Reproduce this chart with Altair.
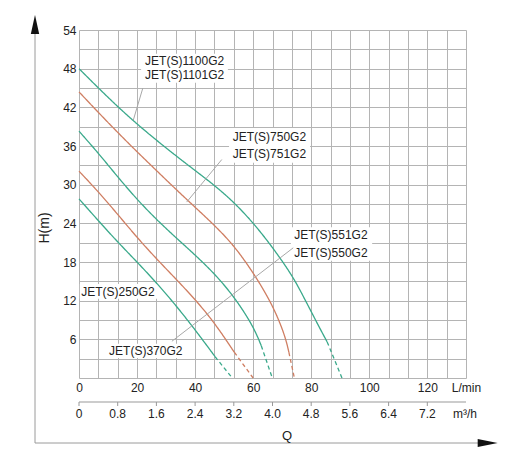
import pandas as pd
import altair as alt

# grid columns are 0.4 m3/h (= 20/3 L/min), rows are 3 m
q_grid = [i * 20 / 3 for i in range(21)]
h_grid = list(range(0, 55, 3))

m3h_ticks = [0, 0.8, 1.6, 2.4, 3.2, 4.0, 4.8, 5.6, 6.4, 7.2]
m3h_text = ["0", "0.8", "1.6", "2.4", "3.2", "4.0", "4.8", "5.6", "6.4", "7.2"]

# pump curves: Q in L/min, H in m (solid part)
models = ["1100G2", "750G2", "551G2", "370G2", "250G2"]
curve_colors = ["#3aa98b", "#cf7e62", "#3aa98b", "#cf7e62", "#3aa98b"]

q_1100 = [0, 6.67, 13.33, 20, 26.67, 33.33, 40, 46.67, 53.33, 60, 66.67, 73.33, 76.67, 80, 83.33, 85.5]
h_1100 = [48, 45, 42.1, 39.4, 36.9, 34.5, 32.2, 29.9, 27.3, 24.1, 20.3, 16.0, 13.2, 10.3, 7.4, 5.6]
q_750 = [0, 6.67, 13.33, 20, 26.67, 33.33, 40, 46.67, 53.33, 60, 66.67, 71, 72.3]
h_750 = [44.4, 41.2, 38.1, 35.1, 32.2, 29.3, 26.5, 23.7, 20.6, 16.4, 11.4, 6.6, 4.0]
q_551 = [0, 6.67, 13.33, 20, 26.67, 33.33, 40, 46.67, 53.33, 60, 62.8]
h_551 = [38.3, 34.9, 31.2, 27.7, 24.6, 21.8, 19.1, 16.2, 12.7, 8.1, 5.0]
q_370 = [0, 6.67, 13.33, 20, 26.67, 33.33, 40, 46.67, 53.5]
h_370 = [32.1, 28.9, 25.4, 21.8, 18.5, 15.4, 12.2, 8.6, 4.0]
q_250 = [0, 6.67, 13.33, 20, 26.67, 33.33, 40, 46.9]
h_250 = [27.8, 24.4, 21.1, 18.0, 14.8, 11.3, 7.5, 3.3]
# where the dashed tail reaches H = 0
q_shutoff = [90.6, 74.2, 66.6, 60.0, 52.8]

# model labels
label_text = ["JET(S)1100G2", "JET(S)1101G2", "JET(S)750G2", "JET(S)751G2",
              "JET(S)551G2", "JET(S)550G2", "JET(S)250G2", "JET(S)370G2"]
label_q = [36.4, 36.4, 65.6, 65.6, 86.8, 86.8, 13.4, 23.0]
label_h = [49.2, 47.0, 37.4, 34.7, 22.2, 19.4, 13.4, 4.2]

# white boxes behind the labels
box_q = [21.4, 51.7, 73.0, 0.3, 9.3]
box_q2 = [51.3, 79.6, 101.0, 26.9, 36.9]
box_h = [45.8, 33.4, 18.2, 12.3, 3.1]
box_h2 = [50.3, 38.8, 23.4, 14.6, 5.3]

# leader lines
lead_q = [22.0, 49.2, 73.8]
lead_h = [45.0, 33.9, 20.2]
lead_q2 = [18.7, 37.1, 32.0]
lead_h2 = [40.0, 27.3, 5.7]

rows = []
for m, qs, hs, q0 in zip(models, [q_1100, q_750, q_551, q_370, q_250],
                         [h_1100, h_750, h_551, h_370, h_250], q_shutoff):
    for q, h in zip(qs, hs):
        rows.append({"model": m, "part": "solid", "q": q, "h": h})
    rows.append({"model": m, "part": "tail", "q": qs[-1], "h": hs[-1]})
    rows.append({"model": m, "part": "tail", "q": q0, "h": 0})
curves = pd.DataFrame(rows)

labels = pd.DataFrame({"text": label_text, "q": label_q, "h": label_h})
boxes = pd.DataFrame({"q": box_q, "q2": box_q2, "h": box_h, "h2": box_h2})
leaders = pd.DataFrame({"q": lead_q, "q2": lead_q2, "h": lead_h, "h2": lead_h2})
m3h = pd.DataFrame({"q": [v * 50 / 3 for v in m3h_ticks], "text": m3h_text})
one = pd.DataFrame({"k": [0]})

FONT = "Liberation Sans"
xs = alt.Scale(domain=[0, 400 / 3], nice=False, zero=False)
ys = alt.Scale(domain=[0, 54], nice=False, zero=False)

x_axis = alt.Axis(values=q_grid, grid=True, ticks=False, tickSize=0, domain=False,
                  labelFlush=False, labelOverlap=False, labelPadding=4, title=None,
                  labelExpr="(datum.value + 0.01) % 20 < 0.02 ? format(datum.value, '.0f')"
                            " : (datum.value > 133 ? 'L/min' : '')")
y_axis = alt.Axis(values=h_grid, grid=True, ticks=False, tickSize=0, domain=False,
                  labelPadding=3, title=None,
                  labelExpr="datum.value > 0 && datum.value % 6 == 0 ? format(datum.value, 'd') : ''")


def X(field):
    return alt.X(field, scale=xs, axis=x_axis)


def Y(field):
    return alt.Y(field, scale=ys, axis=y_axis)


box_layer = alt.Chart(boxes).mark_rect(color="white").encode(
    x=X("q:Q"), x2="q2:Q", y=Y("h:Q"), y2="h2:Q")

curve_layer = alt.Chart(curves).mark_line(interpolate="basis", strokeWidth=1.3).encode(
    x=X("q:Q"),
    y=Y("h:Q"),
    color=alt.Color("model:N", scale=alt.Scale(domain=models, range=curve_colors), legend=None),
    detail="part:N",
    strokeDash=alt.StrokeDash("part:N", scale=alt.Scale(domain=["solid", "tail"], range=[[1, 0], [4, 3]]),
                              legend=None),
    order="q:Q",
)

leader_layer = alt.Chart(leaders).mark_rule(color="#a8a8a8", strokeWidth=1).encode(
    x=X("q:Q"), x2="q2:Q", y=Y("h:Q"), y2="h2:Q")

label_layer = alt.Chart(labels).mark_text(font=FONT, fontSize=12, color="#222",
                                          align="center", baseline="middle").encode(
    x=X("q:Q"), y=Y("h:Q"), text="text:N")

# second flow scale in m3/h under the L/min labels
m3h_line = alt.Chart(one).mark_rule(color="#999", strokeWidth=1).encode(
    x=alt.value(0), x2=alt.value(387), y=alt.value(372))
m3h_tick = alt.Chart(m3h).mark_rule(color="#999", strokeWidth=1).encode(
    x=X("q:Q"), y=alt.value(372), y2=alt.value(376))
m3h_lab = alt.Chart(m3h).mark_text(font=FONT, fontSize=12, color="#222", baseline="middle").encode(
    x=X("q:Q"), y=alt.value(383.5), text="text:N")
m3h_unit = alt.Chart(one).mark_text(font=FONT, fontSize=12, color="#222", baseline="middle",
                                    text="m³/h").encode(x=alt.value(386), y=alt.value(383.5))

# outer frame with arrows
frame_v = alt.Chart(one).mark_rule(color="#9a9a9a").encode(
    x=alt.value(-44), y=alt.value(-10), y2=alt.value(413))
frame_h = alt.Chart(one).mark_rule(color="#9a9a9a").encode(
    x=alt.value(-44), x2=alt.value(400), y=alt.value(413))
arrow_up = alt.Chart(one).mark_point(shape="M -0.44 1 L 0 -1 L 0.44 1 Z", size=361,
                                     filled=True, opacity=1, color="#111").encode(
    x=alt.value(-44), y=alt.value(-5.5))
arrow_right = alt.Chart(one).mark_point(shape="M -1 -0.4 L 1 0 L -1 0.4 Z", size=400,
                                        filled=True, opacity=1, color="#111").encode(
    x=alt.value(408.7), y=alt.value(413))

title_h = alt.Chart(one).mark_text(font=FONT, fontSize=14, color="#222", angle=270,
                                   baseline="middle", text="H(m)").encode(
    x=alt.value(-34), y=alt.value(198))
title_q = alt.Chart(one).mark_text(font=FONT, fontSize=13, color="#222",
                                   baseline="middle", text="Q").encode(
    x=alt.value(208), y=alt.value(406))

chart = alt.layer(
    box_layer, curve_layer, leader_layer, label_layer,
    m3h_line, m3h_tick, m3h_lab, m3h_unit,
    frame_v, frame_h, arrow_up, arrow_right, title_h, title_q,
).properties(
    width=387, height=348,
    autosize=alt.AutoSizeParams(type="none"),
    padding={"left": 71, "top": 22, "right": 38, "bottom": 85},
).configure_view(
    strokeWidth=0
).configure_axis(
    gridColor="#b4b4b4", gridWidth=1, gridOpacity=1,
    labelFont=FONT, labelFontSize=12, labelColor="#222",
)

chart.save("out.html", embed_options={"renderer": "svg", "actions": False})
